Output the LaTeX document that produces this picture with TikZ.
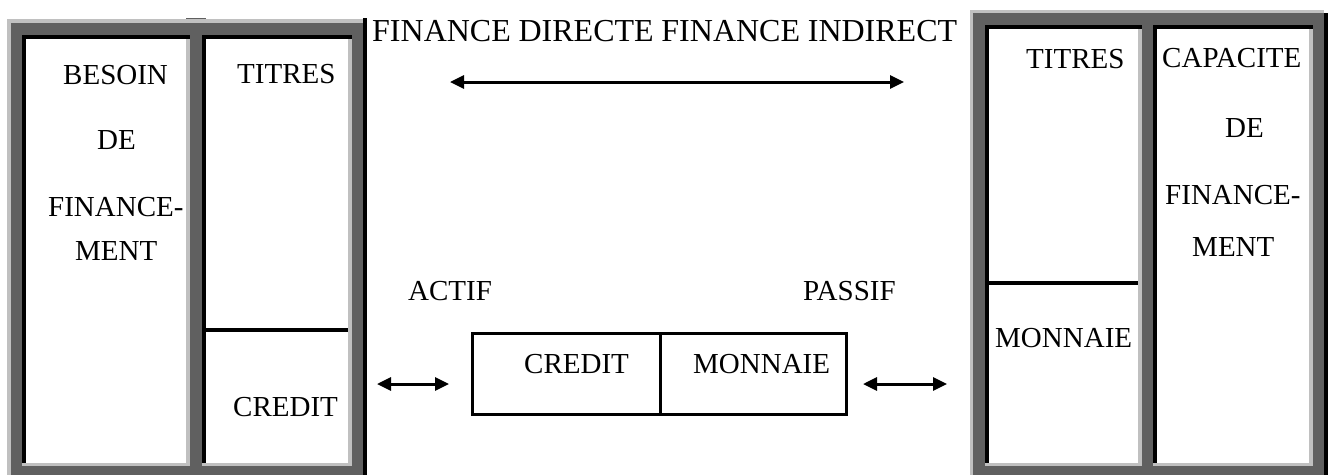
\documentclass[tikz,border=0pt]{standalone}
\usepackage{fontspec}
\setmainfont{Liberation Serif}
\usetikzlibrary{arrows.meta}

\definecolor{bevellight}{HTML}{C0C0C0}
\definecolor{beveldark}{HTML}{606060}

\tikzset{
  lbl/.style={anchor=base west, inner sep=0pt, font=\fontsize{29}{34}\selectfont},
  bigtitle/.style={anchor=base west, inner sep=0pt, font=\fontsize{32}{38}\selectfont},
  dblarrow/.style={line width=3pt,
    {Triangle[length=14pt,width=13pt]}-{Triangle[length=14pt,width=13pt]}},
  boxcell/.style={draw, line width=2.5pt, anchor=north west, inner sep=0pt},
}

% one sunken table cell: black top/left edges, light grey bottom/right edges
\newcommand\bevelcell[4]{%
  \fill[white] (#1,#2) rectangle (#3,#4);
  \fill[black] (#1,#2) rectangle (#3,{#2+4});
  \fill[black] (#1,#2) rectangle ({#1+4},{#4-3.5});
  \fill[bevellight] (#1,{#4-3.5}) rectangle (#3,#4);
  \fill[bevellight] ({#3-4},{#2+4}) rectangle (#3,#4);
}

\begin{document}
\begin{tikzpicture}[x=1pt,y=-1pt]
\useasboundingbox (0,0) rectangle (1329,475);
\fill[white] (0,0) rectangle (1329,475);

% ---- left table (borrowers) ----
\fill[bevellight] (7,19) rectangle (363,475);
\fill[beveldark] (11,23) rectangle (363,475);
\fill[black] (363,18) rectangle (367,475);
\fill[beveldark] (186,17.5) rectangle (206,19);
\fill[bevellight] (186,19) rectangle (206,23);
\bevelcell{22}{35}{190}{466}
\bevelcell{202}{35}{352}{466}
\fill[black] (206,328) rectangle (348,332);

\node[lbl] (besoin) at (63,84) {BESOIN};
\node[lbl] (bde) at (97,149) {DE};
\node[lbl] (bfin) at (48,216) {FINANCE-};
\node[lbl] (bment) at (75,260) {MENT};
\node[lbl] (ltitres) at (237,83) {TITRES};
\node[lbl] (lcredit) at (233,416) {CREDIT};

% ---- right table (lenders) ----
\fill[bevellight] (970,10) rectangle (1324,475);
\fill[beveldark] (973.3,13.3) rectangle (1324,475);
\fill[black] (1324,13) rectangle (1328,475);
\bevelcell{985}{25}{1142}{466}
\bevelcell{1153}{25}{1313}{466}
\fill[black] (989,281) rectangle (1138,285);

\node[lbl] (rtitres) at (1026,68) {TITRES};
\node[lbl] (rmonnaie) at (995,347) {MONNAIE};
\node[lbl] (capacite) at (1162,67) {CAPACITE};
\node[lbl] (cde) at (1225,137) {DE};
\node[lbl] (cfin) at (1165,204) {FINANCE-};
\node[lbl] (cment) at (1192,256) {MENT};

% ---- middle: direct / indirect finance ----
\node[bigtitle] (title) at (372,41)
  {\makebox[585pt][s]{FINANCE\hfill DIRECTE\hfill FINANCE\hfill INDIRECT}};
\coordinate (ta) at (450,82);
\coordinate (tb) at (904,82);
\draw[dblarrow] (ta) -- (tb);

\node[lbl] (actif) at (408,300) {ACTIF};
\node[lbl] (passif) at (803,300) {PASSIF};

\node[boxcell, minimum width=188pt, minimum height=81pt] (bcredit) at (471,332) {};
\node[boxcell, minimum width=186pt, minimum height=81pt] (bmonnaie) at (659,332) {};
\node[lbl] (mcredit) at (524,373) {CREDIT};
\node[lbl] (mmonnaie) at (693,373) {MONNAIE};

\coordinate (la) at (377,384);
\coordinate (lb) at (449,384);
\draw[dblarrow] (la) -- (lb);
\coordinate (ra) at (863,384);
\coordinate (rb) at (947,384);
\draw[dblarrow] (ra) -- (rb);
\end{tikzpicture}
\end{document}
